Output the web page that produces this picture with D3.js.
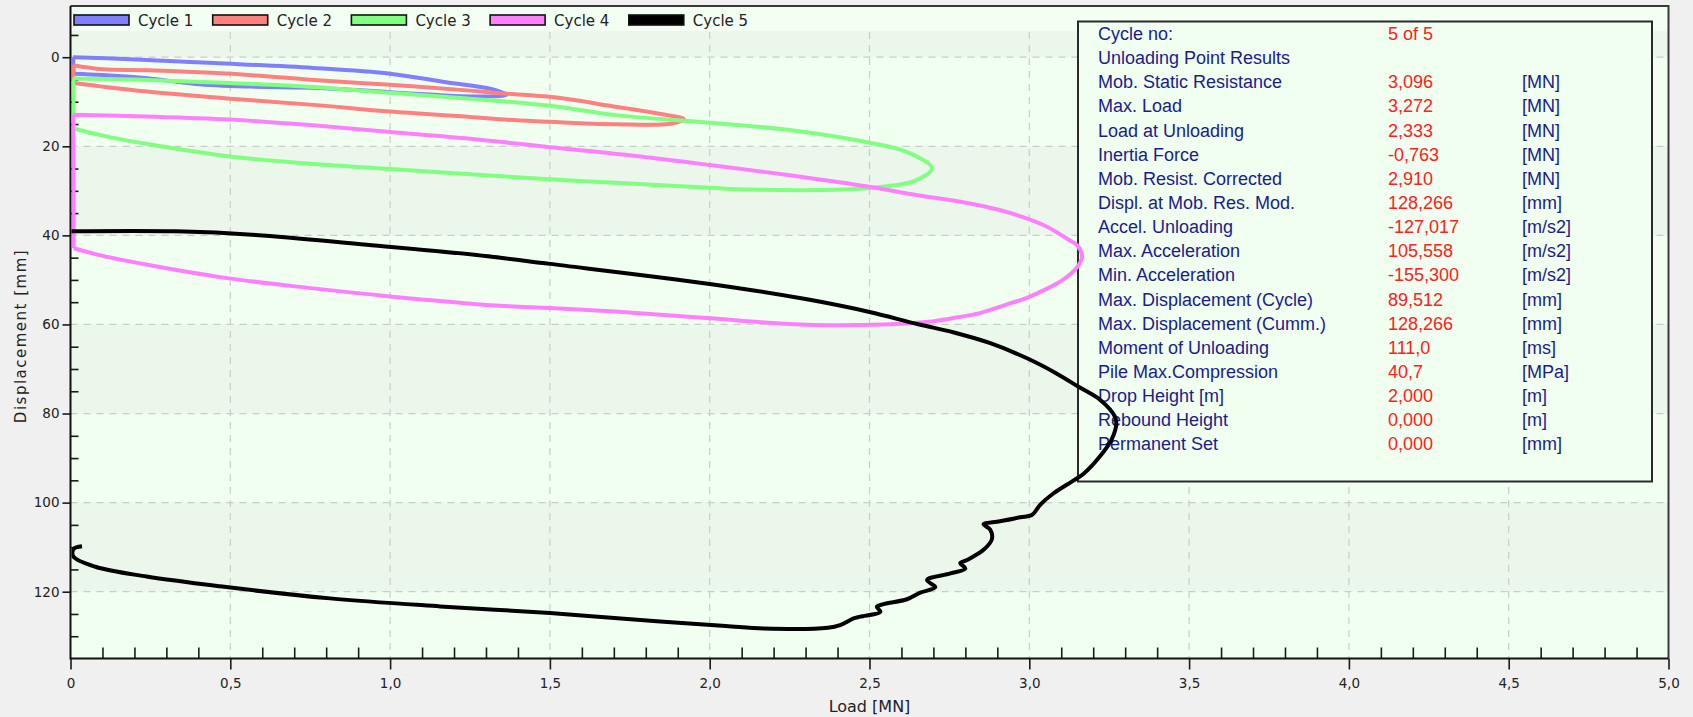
<!DOCTYPE html>
<html>
<head>
<meta charset="utf-8">
<script src="https://cdn.jsdelivr.net/npm/d3@7"></script>
<style>
  body { margin: 0; background: #f0f0f0; }
  svg { display: block; }
</style>
</head>
<body>
<div id="chart"></div>
<script>
// load [MN] vs displacement [mm] for each impact cycle
var cycleNames = ["Cycle 1", "Cycle 2", "Cycle 3", "Cycle 4", "Cycle 5"];
var cycleColors = ["#8080ff", "#ff8080", "#80ff80", "#ff80ff", "#000000"];
// cycles 1-4 are closed back to their start along the zero-load axis
var closeLoop = [true, true, true, true, false];

var load1 = [0.008, 0.17, 0.45, 0.76, 1.0, 1.175, 1.316, 1.365, 1.25, 1.01, 0.78, 0.56, 0.39, 0.24, 0.1, 0.01];
var disp1 = [0.0, 0.4, 1.3, 2.4, 3.7, 5.6, 7.1, 8.4, 8.8, 7.9, 6.9, 6.6, 6.0, 4.7, 4.0, 3.7];

var load2 = [0.008, 0.1, 0.24, 0.5, 0.76, 1.0, 1.25, 1.344, 1.5, 1.704, 1.847, 1.919, 1.871, 1.75, 1.656, 1.5, 1.344, 1.25, 1.0, 0.76, 0.5, 0.24, 0.1, 0.01];
var disp2 = [1.8, 2.7, 2.9, 3.7, 5.1, 6.2, 7.5, 8.1, 8.9, 11.1, 12.75, 13.9, 15.0, 15.1, 15.0, 14.5, 13.95, 13.4, 12.2, 10.7, 9.3, 7.7, 6.6, 5.8];

var load3 = [0.008, 0.24, 0.5, 0.76, 1.0, 1.25, 1.5, 1.704, 2.0, 2.243, 2.5, 2.614, 2.695, 2.644, 2.542, 2.422, 2.123, 2.0, 1.704, 1.5, 1.25, 1.0, 0.76, 0.5, 0.24, 0.1, 0.01];
var disp3 = [4.8, 5.1, 5.8, 6.7, 8.0, 9.3, 10.9, 13.0, 14.7, 16.3, 19.2, 21.2, 24.9, 27.7, 29.1, 29.7, 29.7, 29.3, 28.2, 27.4, 26.3, 25.1, 24.0, 22.3, 19.5, 17.6, 16.0];

var load4 = [0.008, 0.24, 0.5, 0.76, 1.0, 1.25, 1.5, 1.735, 2.0, 2.25, 2.5, 2.65, 2.78, 2.901, 3.0, 3.057, 3.117, 3.153, 3.165, 3.147, 3.105, 3.057, 3.0, 2.926, 2.842, 2.758, 2.686, 2.542, 2.326, 2.183, 2.0, 1.704, 1.5, 1.344, 1.0, 0.76, 0.49, 0.24, 0.1, 0.01];
var disp4 = [12.9, 13.3, 14.0, 15.3, 16.8, 18.3, 20.2, 21.9, 24.2, 26.5, 29.1, 31.0, 32.4, 34.2, 36.4, 38.1, 40.7, 42.5, 44.9, 47.4, 50.0, 51.9, 53.8, 55.6, 57.5, 58.6, 59.4, 60.0, 60.1, 59.6, 58.6, 57.1, 56.3, 55.8, 53.7, 51.9, 49.6, 46.6, 44.6, 42.9];

var load5 = [0.0, 0.33, 0.58, 0.927, 1.27, 1.5, 2.0, 2.3, 2.5, 2.649, 2.764, 2.878, 2.993, 3.085, 3.154, 3.223, 3.268, 3.272, 3.257, 3.22, 3.17, 3.139, 3.076, 3.034, 3.008, 2.972, 2.899, 2.857, 2.878, 2.883, 2.857, 2.805, 2.784, 2.8, 2.753, 2.68, 2.706, 2.659, 2.617, 2.544, 2.523, 2.534, 2.471, 2.45, 2.408, 2.37, 2.17, 2.05, 1.845, 1.5, 1.157, 0.812, 0.468, 0.238, 0.078, 0.009, 0.01, 0.036];
var disp5 = [39.1, 39.1, 39.9, 42.1, 44.4, 46.4, 50.9, 54.3, 57.2, 59.9, 61.8, 64.2, 67.6, 71.0, 74.0, 77.0, 80.7, 82.5, 85.9, 89.7, 93.5, 95.0, 97.9, 100.5, 102.8, 103.3, 104.3, 104.8, 106.1, 108.2, 110.6, 112.9, 113.6, 114.8, 115.9, 117.4, 119.0, 120.2, 121.7, 122.8, 123.4, 124.5, 125.6, 126.0, 127.5, 128.1, 128.27, 127.7, 126.7, 124.8, 123.3, 121.5, 118.8, 116.6, 114.4, 112.1, 110.4, 109.8];

var xTickValues = [0, 0.5, 1.0, 1.5, 2.0, 2.5, 3.0, 3.5, 4.0, 4.5, 5.0];
var xTickLabels = ["0", "0,5", "1,0", "1,5", "2,0", "2,5", "3,0", "3,5", "4,0", "4,5", "5,0"];
var yTickValues = [0, 20, 40, 60, 80, 100, 120];
var yTickLabels = ["0", "20", "40", "60", "80", "100", "120"];

var infoLabels = ["Cycle no:", "Unloading Point Results", "Mob. Static Resistance", "Max. Load",
  "Load at Unloading", "Inertia Force", "Mob. Resist. Corrected", "Displ. at Mob. Res. Mod.",
  "Accel. Unloading", "Max. Acceleration", "Min. Acceleration", "Max. Displacement (Cycle)",
  "Max. Displacement (Cumm.)", "Moment of Unloading", "Pile Max.Compression", "Drop Height [m]",
  "Rebound Height", "Permanent Set"];
var infoValues = ["5 of 5", "", "3,096", "3,272", "2,333", "-0,763", "2,910", "128,266", "-127,017",
  "105,558", "-155,300", "89,512", "128,266", "111,0", "40,7", "2,000", "0,000", "0,000"];
var infoUnits = ["", "", "[MN]", "[MN]", "[MN]", "[MN]", "[MN]", "[mm]", "[m/s2]", "[m/s2]", "[m/s2]",
  "[mm]", "[mm]", "[ms]", "[MPa]", "[m]", "[m]", "[mm]"];

var cycles = [[load1, disp1], [load2, disp2], [load3, disp3], [load4, disp4], [load5, disp5]];

// page / plot geometry
var W = 1693, H = 717;
var plotL = 70.5, plotR = 1668.5, plotT = 6, plotB = 658.5;
var tickFont = "'DejaVu Sans', sans-serif";
var boxFont = "'Liberation Sans', Arial, sans-serif";

var svg = d3.select("#chart")
    .append("svg")
    .attr("width", W)
    .attr("height", H);

svg.append("rect").attr("width", W).attr("height", H).attr("fill", "#f0f0f0");

var x = d3.scaleLinear().domain([0, 5]).range([plotL, plotR]);
var y = d3.scaleLinear().domain([-11.5, 135]).range([plotT, plotB]);

// plot background with alternating bands every 20 mm
var bands = [-20, 0, 20, 40, 60, 80, 100, 120];
svg.append("g").selectAll("rect")
    .data(bands)
    .enter().append("rect")
    .attr("x", plotL)
    .attr("width", plotR - plotL)
    .attr("y", function(d) { return y(Math.max(d, -11.5)); })
    .attr("height", function(d) { return y(Math.min(d + 20, 135)) - y(Math.max(d, -11.5)); })
    .attr("fill", function(d, i) { return i % 2 === 0 ? "#eaf7ea" : "#f0fff0"; });

// dashed grid
var grid = svg.append("g")
    .attr("stroke", "#c9cdc9")
    .attr("stroke-width", 1.2)
    .attr("stroke-dasharray", "7,6");
grid.selectAll(".gx")
    .data(xTickValues.slice(1, -1))
    .enter().append("line")
    .attr("x1", function(d) { return x(d); })
    .attr("x2", function(d) { return x(d); })
    .attr("y1", plotT).attr("y2", plotB);
grid.selectAll(".gy")
    .data(yTickValues)
    .enter().append("line")
    .attr("x1", plotL).attr("x2", plotR)
    .attr("y1", function(d) { return y(d); })
    .attr("y2", function(d) { return y(d); });

// legend strip across the top of the plot
svg.append("rect")
    .attr("x", plotL + 1).attr("y", plotT + 1)
    .attr("width", plotR - plotL - 2).attr("height", 24)
    .attr("fill", "#f3fff3");

var legend = svg.append("g");
cycleNames.forEach(function(name, i) {
    var lx = 74 + i * 138.7;
    legend.append("rect")
        .attr("x", lx).attr("y", 15)
        .attr("width", 55).attr("height", 10)
        .attr("fill", cycleColors[i])
        .attr("stroke", "#111")
        .attr("stroke-width", 1.6);
    legend.append("text")
        .attr("x", lx + 64).attr("y", 26)
        .attr("font-family", tickFont)
        .attr("font-size", "15px")
        .attr("fill", "#222")
        .text(name);
});

// y axis: labelled ticks outside, minor ticks inside
var yMajor = svg.append("g")
    .attr("transform", "translate(" + plotL + ",0)")
    .call(d3.axisLeft(y).tickValues(yTickValues).tickSize(8).tickPadding(3)
        .tickFormat(function(d, i) { return yTickLabels[i]; }));
var yMinor = svg.append("g")
    .attr("transform", "translate(" + plotL + ",0)")
    .call(d3.axisLeft(y).tickValues(d3.range(-5, 135, 5).filter(function(d) { return d % 20 !== 0; }))
        .tickSize(-8).tickFormat(""));

// x axis
var xMajor = svg.append("g")
    .attr("transform", "translate(0," + plotB + ")")
    .call(d3.axisBottom(x).tickValues(xTickValues).tickSize(11).tickPadding(9)
        .tickFormat(function(d, i) { return xTickLabels[i]; }));
var xMinor = svg.append("g")
    .attr("transform", "translate(0," + plotB + ")")
    .call(d3.axisBottom(x).tickValues(d3.range(1, 50).filter(function(d) { return d % 5 !== 0; }).map(function(d) { return d / 10; }))
        .tickSize(-11).tickFormat(""));

[yMajor, yMinor, xMajor, xMinor].forEach(function(g) {
    g.select(".domain").remove();
    g.selectAll(".tick line").attr("stroke", "#1a1a1a").attr("stroke-width", 1.6);
    g.selectAll(".tick text")
        .attr("font-family", tickFont)
        .attr("font-size", "13.5px")
        .attr("fill", "#222");
});

// frame and axis lines
svg.append("path")
    .attr("d", "M" + plotL + "," + plotT + "H" + plotR + "V" + plotB)
    .attr("fill", "none")
    .attr("stroke", "#3a3a3a")
    .attr("stroke-width", 2);
svg.append("path")
    .attr("d", "M" + plotL + "," + plotT + "V" + plotB + "H" + plotR)
    .attr("fill", "none")
    .attr("stroke", "#111")
    .attr("stroke-width", 2);

// axis titles
svg.append("text")
    .attr("x", (plotL + plotR) / 2).attr("y", 712)
    .attr("text-anchor", "middle")
    .attr("font-family", tickFont)
    .attr("font-size", "16px")
    .attr("fill", "#222")
    .text("Load [MN]");
svg.append("text")
    .attr("transform", "translate(26,336) rotate(-90)")
    .attr("text-anchor", "middle")
    .attr("font-family", tickFont)
    .attr("font-size", "15px")
    .attr("letter-spacing", "1.5px")
    .attr("fill", "#222")
    .text("Displacement [mm]");

// result box
var box = svg.append("g");
box.append("rect")
    .attr("x", 1078).attr("y", 21.5)
    .attr("width", 574).attr("height", 460)
    .attr("fill", "#f0fff0")
    .attr("stroke", "#2a2a2a")
    .attr("stroke-width", 2);
infoLabels.forEach(function(label, i) {
    var ty = 33.4 + i * 24.15 + 6.5;
    box.append("text").attr("x", 1098).attr("y", ty)
        .attr("font-family", boxFont)
        .attr("font-size", "18px").attr("fill", "#1c1c8a").text(label);
    box.append("text").attr("x", 1388).attr("y", ty)
        .attr("font-family", boxFont)
        .attr("font-size", "18px").attr("fill", "#ff2020").text(infoValues[i]);
    box.append("text").attr("x", 1522).attr("y", ty)
        .attr("font-family", boxFont)
        .attr("font-size", "18px").attr("fill", "#1c1c8a").text(infoUnits[i]);
});

// cycle curves, later cycles on top
svg.append("clipPath").attr("id", "plotclip")
    .append("rect")
    .attr("x", plotL + 1).attr("y", plotT + 1)
    .attr("width", plotR - plotL - 2).attr("height", plotB - plotT - 2);

var curve = d3.line()
    .x(function(d) { return x(d[0]); })
    .y(function(d) { return y(d[1]); })
    .curve(d3.curveCatmullRom.alpha(0.5));
var straight = d3.line()
    .x(function(d) { return x(d[0]); })
    .y(function(d) { return y(d[1]); });

var curves = svg.append("g").attr("clip-path", "url(#plotclip)");
cycles.forEach(function(c, i) {
    var pts = d3.zip(c[0], c[1]);
    var g = curves.append("g")
        .attr("fill", "none")
        .attr("stroke", cycleColors[i])
        .attr("stroke-width", 4)
        .attr("stroke-linejoin", "round");
    if (closeLoop[i]) {
        g.append("path").attr("d", straight([pts[pts.length - 1], pts[0]]));
    }
    g.append("path").attr("d", curve(pts));
});
</script>
</body>
</html>
